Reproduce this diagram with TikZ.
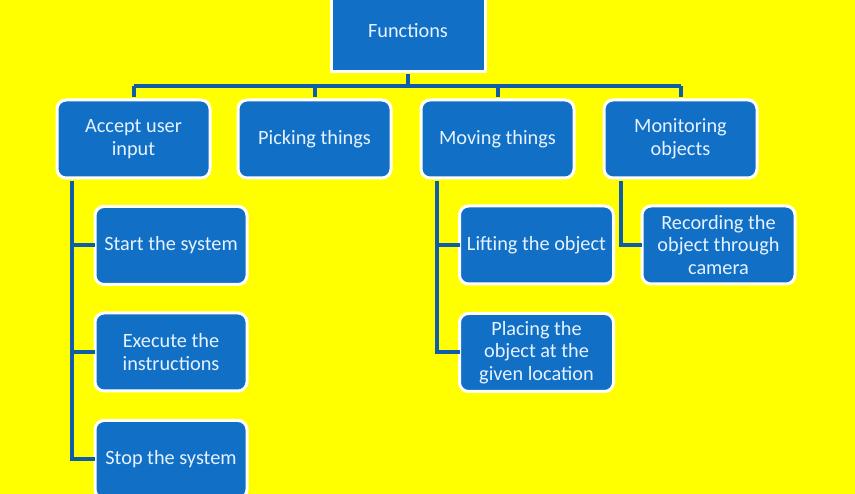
\documentclass[tikz,border=0pt]{standalone}
\usepackage{fontspec}
\setmainfont{Carlito}
\definecolor{bg}{HTML}{FFFF00}
\definecolor{boxfill}{HTML}{1170C5}
\definecolor{linecol}{HTML}{0F5DA8}
\definecolor{txt}{HTML}{E6F2FF}
\tikzset{
  box/.style={draw=white, line width=3pt, fill=boxfill, text=txt, align=center,
    rounded corners=9pt, minimum width=153pt, minimum height=78pt, inner sep=2pt,
    font=\fontsize{20.3}{22.5}\selectfont},
  topbox/.style={box, rounded corners=0pt, minimum width=154pt, minimum height=82pt},
  conn/.style={draw=linecol, line width=4pt}
}
\begin{document}
\begin{tikzpicture}[x=1pt,y=-1pt]
\fill[bg] (0,0) rectangle (855,494);
\useasboundingbox (0,0) rectangle (855,494);
\coordinate (bus) at (408,86);
\node[topbox] (F) at (408,30.5) {Functions};
\node[box] (A) at (133.5,139) {Accept user\\input};
\node[box] (P) at (314.5,139) {Picking things};
\node[box] (M) at (497.5,139) {Moving things};
\node[box] (O) at (680.5,139) {Monitoring\\objects};
\node[box, minimum width=152pt] (S1) at (171,245.5) {Start the system};
\node[box, minimum width=152pt] (S2) at (171,352) {Execute the\\instructions};
\node[box, minimum width=152pt] (S3) at (171,459.5) {Stop the system};
\node[box, minimum width=154pt] (L1) at (536.5,245) {Lifting the object};
\node[box, minimum width=154pt] (L2) at (536.5,352.5) {Placing the\\object at the\\given location};
\node[box, minimum width=153pt] (R1) at (718.5,245) {Recording the\\object through\\camera};
\draw[conn] ([yshift=-1.5pt]F.south) -- (F.south |- bus);
\draw[conn] (bus -| A.north) -- (bus -| O.north);
\foreach \n in {A,P,M,O} {\draw[conn] (bus -| \n.north) -- ([yshift=1.5pt]\n.north);}
\draw[conn] ([xshift=16pt,yshift=-1.5pt]A.south west) |- ([xshift=1.5pt]S1.west);
\draw[conn] ([xshift=16pt,yshift=-1.5pt]A.south west) |- ([xshift=1.5pt]S2.west);
\draw[conn] ([xshift=16pt,yshift=-1.5pt]A.south west) |- ([xshift=1.5pt]S3.west);
\draw[conn] ([xshift=17pt,yshift=-1.5pt]M.south west) |- ([xshift=1.5pt]L1.west);
\draw[conn] ([xshift=17pt,yshift=-1.5pt]M.south west) |- ([xshift=1.5pt]L2.west);
\draw[conn] ([xshift=18pt,yshift=-1.5pt]O.south west) |- ([xshift=1.5pt]R1.west);
\end{tikzpicture}
\end{document}
